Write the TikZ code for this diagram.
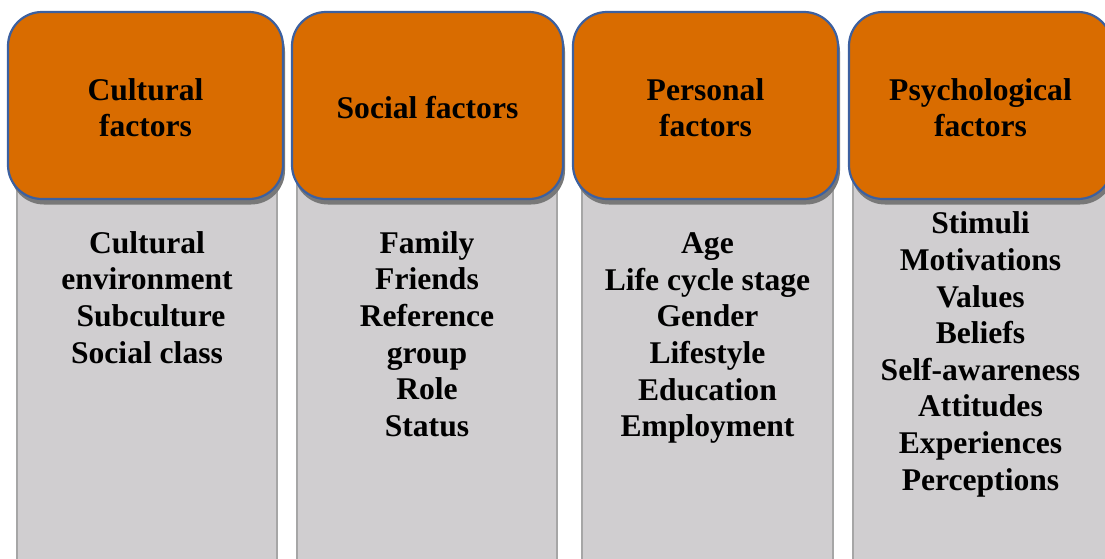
\documentclass[tikz,border=0pt]{standalone}
\usepackage{fontspec}
\setmainfont{Liberation Serif}
\definecolor{hdrorange}{RGB}{217,108,0}
\definecolor{hdrblue}{RGB}{60,96,160}
\definecolor{boxgray}{RGB}{208,206,208}
\definecolor{boxedge}{RGB}{166,166,166}
\definecolor{shadowgray}{RGB}{120,120,120}
\newcommand\diagfont{\fontsize{15.8}{18.3}\selectfont\bfseries}
\tikzset{
  header/.style={draw=hdrblue, line width=1.1pt, fill=hdrorange, rounded corners=17pt,
    minimum height=93.5pt, inner sep=0pt},
  headtext/.style={align=center, inner sep=0pt, font=\diagfont},
  headshadow/.style={fill=shadowgray, rounded corners=17pt, minimum height=93.5pt, inner sep=0pt},
  bodybox/.style={draw=boxedge, line width=0.75pt, fill=boxgray, minimum height=235pt,
    anchor=north, inner sep=0pt},
  items/.style={anchor=north, align=center, inner sep=0pt, font=\diagfont}
}
\begin{document}
\begin{tikzpicture}[x=0.5pt,y=-0.5pt]
\useasboundingbox (0,0) rectangle (1105,558);
\clip (0,0) rectangle (1105,558);
% gray bodies
\node[bodybox, minimum width=130pt] (b1) at (147,150) {};
\node[bodybox, minimum width=130pt] (b2) at (427,150) {};
\node[bodybox, minimum width=125.5pt] (b3) at (707.5,150) {};
\node[bodybox, minimum width=127.5pt] (b4) at (980.5,150) {};
% shadows
\node[headshadow, minimum width=137.5pt] (s1) at (147.5,111) {};
\node[headshadow, minimum width=135.5pt] (s2) at (429.5,111) {};
\node[headshadow, minimum width=132.5pt] (s3) at (707.5,111) {};
\node[headshadow, minimum width=131.5pt] (s4) at (982.5,111) {};
% headers
\node[header, minimum width=137.5pt] (h1) at (145.5,105.5) {};
\node[header, minimum width=135.5pt] (h2) at (427.5,105.5) {};
\node[header, minimum width=132.5pt] (h3) at (705.5,105.5) {};
\node[header, minimum width=131.5pt] (h4) at (980.5,105.5) {};
\node[headtext] (ht1) at ([yshift=-1pt]h1.center) {Cultural\\factors};
\node[headtext] (ht2) at ([yshift=-1pt]h2.center) {Social factors};
\node[headtext] (ht3) at ([yshift=-1pt]h3.center) {Personal\\factors};
\node[headtext] (ht4) at ([yshift=-1pt]h4.center) {Psychological\\factors};
% items
\node[items] (t1) at (147,231) {Cultural\\environment\\\ Subculture\\Social class};
\node[items] (t2) at (427,231) {Family\\Friends\\Reference\\group\\Role\\Status};
\node[items] (t3) at (707.5,232.5) {Age\\Life cycle stage\\Gender\\Lifestyle\\Education\\Employment};
\node[items] (t4) at (980.5,211.5) {Stimuli\\Motivations\\Values\\Beliefs\\Self-awareness\\Attitudes\\Experiences\\Perceptions};
\end{tikzpicture}
\end{document}
